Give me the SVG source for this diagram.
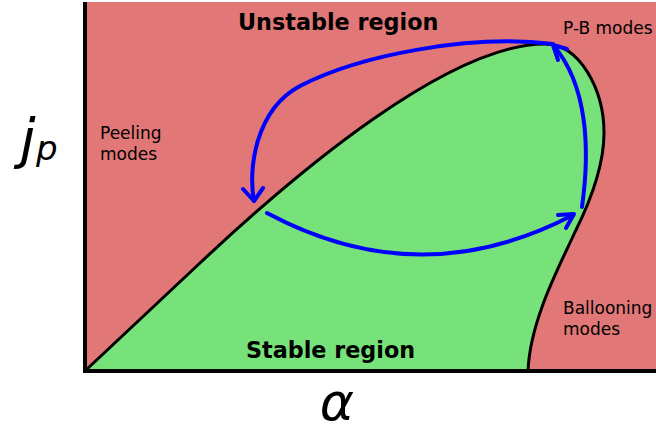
<svg xmlns="http://www.w3.org/2000/svg" width="656" height="431" viewBox="0 0 656 431">
  <style>
    .lbl { font-family: "DejaVu Sans", "Liberation Sans", sans-serif; fill: #000; }
    .big { font-weight: bold; font-size: 22.3px; }
    .small { font-size: 17px; }
    .axis { font-style: italic; }
    .arrow { fill: none; stroke: #0000ff; stroke-width: 4; stroke-linecap: round; stroke-linejoin: round; }
  </style>
  <rect x="0" y="0" width="656" height="431" fill="#ffffff"/>
  <g id="unstable-region">
    <rect x="85" y="2" width="571" height="369" fill="#e27777"/>
  </g>
  <g id="stable-region">
    <path d="M 86,370 L 200,263 C 300,169 450,44 545,44 C 580,44 604,90 604,133 C 604,165 592,198 575,232 C 560,265 530,320 528,371 L 86,371 Z" fill="#77e279" stroke="none"/>
    <path d="M 86,370 L 200,263 C 300,169 450,44 545,44 C 580,44 604,90 604,133 C 604,165 592,198 575,232 C 560,265 530,320 528,371" fill="none" stroke="#000" stroke-width="3"/>
  </g>
  <g id="axes">
    <line x1="85" y1="2" x2="85" y2="373" stroke="#000" stroke-width="4"/>
    <line x1="83" y1="371" x2="656" y2="371" stroke="#000" stroke-width="4"/>
  </g>
  <g id="connectors">
    <path class="arrow" d="M 267,213 Q 420,295 573,215"/>
    <path class="arrow" d="M 558,215 L 574,214 L 566,228"/>
    <path class="arrow" d="M 582,207 C 590,150 588,85 553,45"/>
    <path class="arrow" d="M 567,49 L 553,45 L 558,60"/>
    <path class="arrow" d="M 553,44 C 470,34 360,55 300,86 C 255,110 248,170 254,201"/>
    <path class="arrow" d="M 243,189 L 254,201 L 263,188"/>
  </g>
  <g id="labels">
    <text class="lbl big" x="238" y="30">Unstable region</text>
    <text class="lbl big" x="246" y="358">Stable region</text>
    <text class="lbl small" x="563" y="34">P-B modes</text>
    <text class="lbl small" x="100" y="139">Peeling</text>
    <text class="lbl small" x="100" y="160">modes</text>
    <text class="lbl small" x="563" y="314">Ballooning</text>
    <text class="lbl small" x="563" y="335">modes</text>
    <text class="lbl axis" x="20" y="158" font-size="56">j</text>
    <text class="lbl axis" x="36" y="160" font-size="34">p</text>
    <text class="lbl axis" x="337" y="420" font-size="52" text-anchor="middle">α</text>
  </g>
</svg>
